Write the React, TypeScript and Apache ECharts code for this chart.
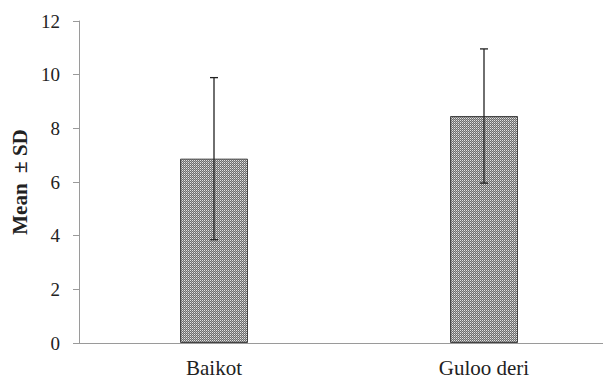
import React, { useEffect, useRef } from "react";
import * as echarts from "echarts";

const categories = ["Baikot", "Guloo deri"];
const means = [6.87, 8.46];
const sds = [3.02, 2.5];
const yTicks = { min: 0, max: 12, interval: 2 };

const SERIF = "Times New Roman";

function makePattern(): HTMLCanvasElement {
  const c = document.createElement("canvas");
  c.width = 2;
  c.height = 2;
  const ctx = c.getContext("2d")!;
  ctx.fillStyle = "#6e6e6e";
  ctx.fillRect(0, 0, 2, 2);
  ctx.fillStyle = "#e4e4e4";
  ctx.fillRect(0, 0, 1, 1);
  ctx.fillStyle = "#a8a8a8";
  ctx.fillRect(1, 1, 1, 1);
  return c;
}

export default function App() {
  const ref = useRef<HTMLDivElement>(null);
  useEffect(() => {
    document.body.style.margin = "0";
    const chart = echarts.init(ref.current!, undefined, { renderer: "svg" });
    const errData = categories.map((c, i) => [i, means[i] - sds[i], means[i] + sds[i]]);
    chart.setOption({
      animation: false,
      textStyle: { fontFamily: SERIF },
      grid: { left: 79, top: 21, right: 1, bottom: 35 },
      xAxis: {
        type: "category",
        data: categories,
        axisLine: { lineStyle: { color: "#9a9a9a", width: 1 } },
        axisTick: { show: false },
        axisLabel: {
          color: "#222",
          fontFamily: SERIF,
          fontSize: 21,
          margin: 14,
        },
      },
      yAxis: {
        type: "value",
        min: yTicks.min,
        max: yTicks.max,
        interval: yTicks.interval,
        name: "Mean  \u00B1 SD",
        nameLocation: "middle",
        nameGap: 38,
        nameTextStyle: {
          color: "#222",
          fontFamily: SERIF,
          fontSize: 21,
          fontWeight: "bold",
        },
        splitLine: { show: false },
        axisLine: { show: true, lineStyle: { color: "#9a9a9a", width: 1 } },
        axisTick: { show: true, length: 6, lineStyle: { color: "#9a9a9a" } },
        axisLabel: {
          color: "#222",
          fontFamily: SERIF,
          fontSize: 19,
          margin: 19,
        },
      },
      series: [
        {
          type: "bar",
          data: means,
          barWidth: 68,
          itemStyle: {
            color: { image: makePattern(), repeat: "repeat" },
            borderColor: "#444",
            borderWidth: 1,
          },
        },
        {
          type: "custom",
          data: errData,
          z: 10,
          renderItem: (params: any, api: any) => {
            const x = api.value(0);
            const lo = api.coord([x, api.value(1)]);
            const hi = api.coord([x, api.value(2)]);
            const hw = 4;
            const style = { stroke: "#222", lineWidth: 1.3 };
            return {
              type: "group",
              children: [
                { type: "line", shape: { x1: hi[0], y1: hi[1], x2: lo[0], y2: lo[1] }, style },
                { type: "line", shape: { x1: hi[0] - hw, y1: hi[1], x2: hi[0] + hw, y2: hi[1] }, style },
                { type: "line", shape: { x1: lo[0] - hw, y1: lo[1], x2: lo[0] + hw, y2: lo[1] }, style },
              ],
            };
          },
        },
      ],
    });
    return () => chart.dispose();
  }, []);
  return (
    <div style={{ position: "absolute", left: 0, top: 0, width: 603, height: 378, overflow: "hidden" }}>
      <div ref={ref} style={{ width: 620, height: 378 }} />
    </div>
  );
}
